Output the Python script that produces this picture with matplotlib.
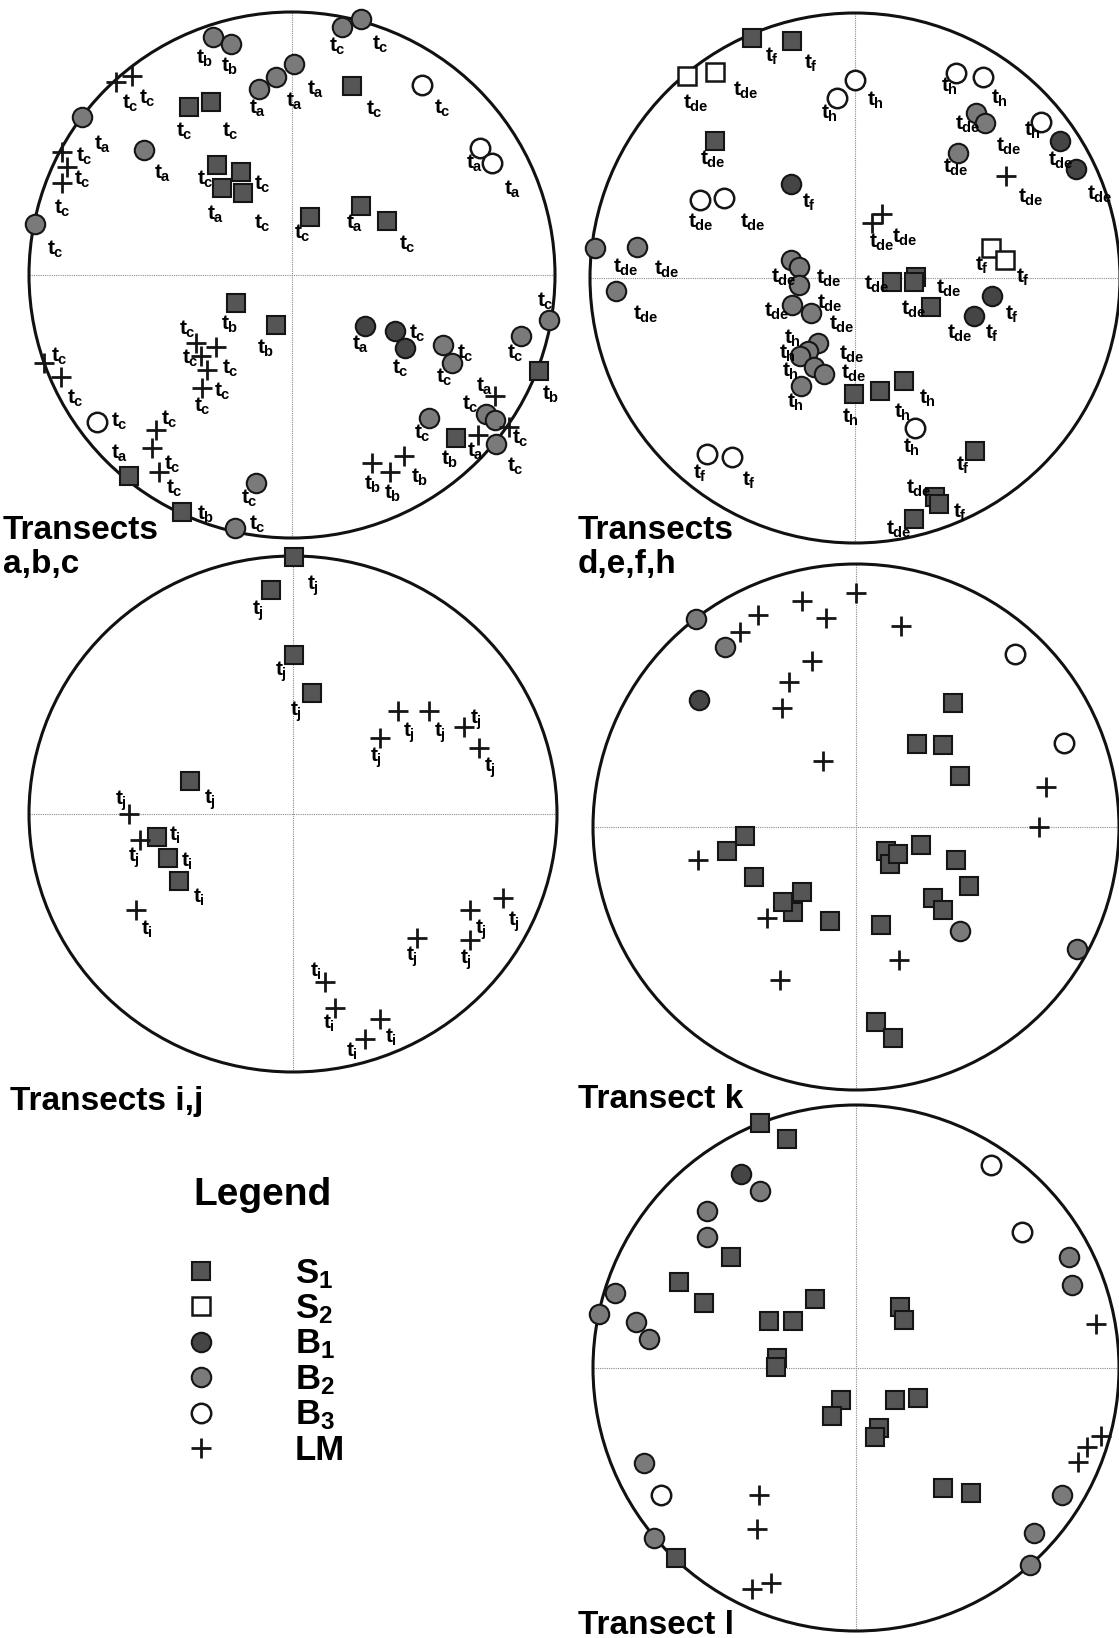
"""Stereonets of S1/S2 foliations, B1-B3 fold axes and LM lineations per transect."""

import matplotlib.pyplot as plt
from matplotlib.lines import Line2D
from matplotlib.patches import Circle

# ---- Transects a,b,c (net coordinates, radius = 1) ----
ABC_KIND = ['B2', 'B2', 'B2', 'B2', 'B2', 'LM', 'LM', 'B2', 'S1', 'S1', 'B2', 'LM', 'LM', 'LM',
            'S1', 'S1', 'S1', 'S1', 'B2', 'B2', 'B2', 'S1', 'B3', 'B3', 'B3', 'S1', 'S1', 'S1',
            'S1', 'S1', 'LM', 'LM', 'LM', 'LM', 'LM', 'LM', 'LM', 'B3', 'LM', 'LM', 'LM', 'S1',
            'S1', 'B2', 'B2', 'B1', 'B1', 'B1', 'B2', 'B2', 'B2', 'B2', 'S1', 'LM', 'B2', 'B2',
            'LM', 'LM', 'B2', 'B2', 'S1', 'LM', 'LM', 'LM']
ABC_X = [-0.300, -0.232, -0.125, -0.061, 0.008, -0.669, -0.608, -0.798, -0.392, -0.308, -0.563,
         -0.875, -0.856, -0.875, -0.285, -0.194, -0.266, -0.186, -0.977, 0.190, 0.262, 0.228,
         0.494, 0.715, 0.760, 0.068, 0.262, 0.361,
         -0.213, -0.061, -0.365, -0.289, -0.346, -0.323, -0.342, -0.943, -0.878, -0.741, -0.517,
         -0.532, -0.506, -0.620, -0.418, -0.137, -0.217, 0.278, 0.392, 0.430, 0.574, 0.608,
         0.871, 0.977, 0.939, 0.772, 0.738, 0.772, 0.825, 0.707, 0.776, 0.521, 0.624, 0.426,
         0.304, 0.373]
ABC_Y = [0.905, 0.878, 0.707, 0.753, 0.802, 0.734, 0.757, 0.601, 0.639, 0.658, 0.475, 0.468,
         0.411, 0.350, 0.418, 0.392, 0.331, 0.312, 0.194, 0.943, 0.973, 0.719, 0.722, 0.483,
         0.426, 0.221, 0.262, 0.205,
         -0.106, -0.190, -0.259, -0.274, -0.308, -0.361, -0.430, -0.335, -0.388, -0.559, -0.589,
         -0.658, -0.749, -0.764, -0.901, -0.791, -0.962, -0.194, -0.213, -0.278, -0.266, -0.335,
         -0.232, -0.171, -0.365, -0.460, -0.529, -0.551, -0.578, -0.608, -0.643, -0.544, -0.620,
         -0.688, -0.715, -0.749]
ABC_TAG = ['b', 'b', 'a', 'a', 'a', 'c', 'c', 'a', 'c', 'c', 'a', 'c', 'c', 'c', 'c', 'c', 'a',
           'c', 'c', 'c', 'c', 'c', 'c', 'a', 'a', 'c', 'a', 'c',
           'b', 'b', 'c', 'c', 'c', 'c', 'c', 'c', 'c', 'c', 'c', 'c', 'c', 'a', 'b', 'c', 'c',
           'a', 'c', 'c', 'c', 'c', 'c', 'c', 'b', 'a', 'c', '', 'c', 'a', 'c', 'c', 'b', 'b',
           'b', 'b']
# label offsets in pixels (right, down) from the symbol
ABC_DX = [-12, -5, -5, 15, 18, 11, 12, 17, -8, 16, 15, 19, 12, -3, -15, 18, -10, 16, 17, -8, 16,
          19, 17, -9, 17, -11, -10, 17,
          -10, -14, -12, 11, -14, 12, -3, 12, 11, 19, 10, 17, 12, -13, 20, -10, 19, -8, 19, -8,
          19, -11, -9, -7, 8, -14, -19, 0, 8, -6, 16, -10, -10, 12, -3, -1]
ABC_DY = [20, 21, 18, 23, 24, 20, 21, 26, 23, 28, 22, 3, 11, 24, 13, 11, 25, 29, 24, 18, 24, 22,
          22, 14, 25, 15, 16, 22,
          20, 22, -15, 20, 1, 20, 17, -8, 20, -2, -12, 15, 15, -24, 1, 14, -5, 17, 1, 19, 7, 13,
          16, -20, 22, -11, -11, 0, 10, 15, 21, 14, 20, 20, 20, 20]

# ---- Transects d,e,f,h ----
DEFH_KIND = ['S1', 'S1', 'S2', 'S2', 'B3', 'B3', 'S1', 'B3', 'B3', 'B1', 'B2', 'B2', 'B2', 'B2',
             'B3', 'B3', 'B2', 'B2', 'B2', 'LM', 'B3', 'B1', 'B1', 'LM', 'LM', 'S2', 'S2', 'S1',
             'S1', 'S1', 'B2', 'B2', 'B2', 'B2', 'B2', 'B2', 'B2', 'B2', 'B2', 'B2', 'S1', 'S1',
             'S1', 'B3', 'B3', 'B3', 'S1', 'B1', 'B1', 'S1', 'S1', 'S1', 'S1']
DEFH_X = [-0.390, -0.236, -0.633, -0.528, -0.067, 0.000, -0.528, -0.584, -0.494, -0.243, -0.981,
          -0.824, -0.240, -0.210, 0.382, 0.483, 0.457, 0.491, 0.390, 0.569, 0.700, 0.772, 0.835,
          0.101, 0.064, 0.513, 0.566, 0.232, 0.139, 0.221, -0.903, -0.210, -0.236, -0.165,
          -0.139, -0.176, -0.206, -0.154, -0.116, -0.202, -0.004, 0.094, 0.184, 0.228, -0.558,
          -0.464, 0.285, 0.517, 0.449, 0.453, 0.300, 0.318, 0.221]
DEFH_Y = [0.906, 0.895, 0.764, 0.779, 0.678, 0.749, 0.517, 0.296, 0.303, 0.356, 0.112, 0.116,
          0.067, 0.041, 0.772, 0.760, 0.622, 0.584, 0.472, 0.386, 0.588, 0.517, 0.412, 0.243,
          0.206, 0.112, 0.067, 0.004, -0.015, -0.015, -0.049, -0.026, -0.101, -0.131, -0.247,
          -0.277, -0.296, -0.337, -0.363, -0.408, -0.438, -0.427, -0.390, -0.566, -0.663,
          -0.674, -0.109, -0.067, -0.142, -0.652, -0.828, -0.854, -0.910]
DEFH_TAG = ['f', 'f', 'de', 'de', 'h', 'h', 'de', 'de', 'de', 'f', 'de', 'de', 'de', 'de', 'h',
            'h', 'de', 'de', 'de', 'de', 'h', 'de', 'de', 'de', 'de', 'f', 'f', 'de', 'de', 'de',
            'de', 'de', 'de', 'de', 'de', 'h', 'h', 'h', 'de', 'h', 'h', 'h', 'h', 'h', 'f', 'f',
            'de', 'f', 'f', 'f', 'de', 'f', 'de']
DEFH_DX = [18, 17, 1, 23, -11, 17, -10, -7, 21, 16, 23, 22, -15, 22, -10, 13, -16, 16, -10, 17,
           -11, -7, 16, 15, 2, -11, 16, 25, -23, -8, 22, 23, -23, 23, 26, -19, -16, -27, 22, -9,
           -7, 19, 20, -7, -9, 15, 21, 18, 16, -14, -24, 19, -23]
DEFH_DY = [17, 21, 26, 17, 13, 19, 17, 21, 23, 17, 17, 20, 15, 10, 11, 20, 10, 21, 13, 20, 7,
           18, 24, 22, 17, 15, 15, 10, 1, 26, 22, 17, 5, 10, 9, -15, -5, 2, -2, 15, 22, 20, 15,
           18, 18, 22, 25, 17, 16, 13, -11, 6, 9]

# ---- Transects i,j ----
IJ_KIND = ['S1'] * 8 + ['LM'] * 16
IJ_X = [0.003, -0.083, 0.005, 0.072, -0.392, -0.516, -0.474, -0.430, -0.621, -0.581, -0.594,
        0.399, 0.331, 0.517, 0.648, 0.705, 0.797, 0.672, 0.672, 0.471, 0.121, 0.160, 0.331,
        0.272]
IJ_Y = [0.996, 0.870, 0.617, 0.470, 0.129, -0.088, -0.172, -0.260, 0.000, -0.102, -0.373,
        0.400, 0.295, 0.400, 0.339, 0.257, -0.325, -0.373, -0.488, -0.481, -0.650, -0.752,
        -0.793, -0.874]
IJ_TAG = ['j', 'j', 'j', 'j', 'j', 'i', 'i', 'i', 'j', 'j', 'i', 'j', 'j', 'j', 'j', 'j', 'j',
          'j', 'j', 'j', 'i', 'i', 'i', 'i']
IJ_DX = [18, -14, -14, -17, 19, 17, 18, 19, -9, -7, 10, 10, -5, 10, 11, 10, 10, 10, -5, -6, -10,
         -7, 10, -14]
IJ_DY = [26, 18, 14, 16, 16, -3, 1, 15, -16, 14, 17, 19, 17, 19, -10, 17, 21, 16, 17, 16, -12,
         14, 17, 10]

# ---- Transect k ----
K_KIND = ['B2', 'B2', 'B1', 'LM', 'LM', 'LM', 'LM', 'LM', 'LM', 'LM', 'LM', 'LM', 'LM', 'B3',
          'B3', 'LM', 'LM', 'S1', 'S1', 'S1', 'S1', 'S1', 'S1', 'LM', 'S1', 'S1', 'S1', 'S1',
          'LM', 'S1', 'LM', 'S1', 'S1', 'S1', 'S1', 'S1', 'S1', 'S1', 'S1', 'B2', 'S1', 'LM',
          'B2', 'S1', 'S1']
K_X = [-0.609, -0.500, -0.596, -0.442, -0.374, -0.205, -0.115, 0.000, 0.171, -0.169, -0.256,
       -0.282, -0.124, 0.603, 0.791, 0.724, 0.696, 0.368, 0.231, 0.331, 0.397, -0.423, -0.491,
       -0.599, -0.388, -0.241, -0.205, -0.278, -0.340, -0.099, -0.288, 0.115, 0.131, 0.158,
       0.246, 0.381, 0.429, 0.291, 0.329, 0.397, 0.096, 0.163, 0.842, 0.077, 0.141]
K_Y = [0.790, 0.684, 0.484, 0.742, 0.807, 0.859, 0.794, 0.889, 0.766, 0.632, 0.553, 0.452,
       0.251, 0.658, 0.319, 0.152, 0.000, 0.473, 0.315, 0.313, 0.193, -0.035, -0.091, -0.126,
       -0.191, -0.322, -0.247, -0.284, -0.345, -0.358, -0.582, -0.091, -0.139, -0.104, -0.069,
       -0.124, -0.224, -0.271, -0.316, -0.397, -0.374, -0.505, -0.465, -0.742, -0.801]

# ---- Transect l ----
L_KIND = ['S1', 'S1', 'B1', 'B2', 'B2', 'B2', 'S1', 'S1', 'S1', 'B2', 'B2', 'B2', 'B2', 'S1',
          'S1', 'S1', 'S1', 'S1', 'S1', 'S1', 'B3', 'B3', 'B2', 'B2', 'LM', 'S1', 'S1', 'S1',
          'S1', 'S1', 'S1', 'S1', 'S1', 'LM', 'LM', 'LM', 'B2', 'B2', 'B2', 'B2', 'B3', 'LM',
          'LM', 'B2', 'S1', 'LM', 'LM']
L_X = [-0.366, -0.261, -0.439, -0.364, -0.568, -0.568, -0.474, -0.674, -0.579, -0.916, -0.977,
       -0.837, -0.787, -0.154, -0.329, -0.239, -0.299, -0.306, 0.169, 0.181, 0.514, 0.630,
       0.810, 0.823, 0.911, -0.058, -0.093, 0.148, 0.234, 0.088, 0.072, 0.329, 0.436, 0.930,
       0.879, 0.843, 0.782, 0.675, 0.662, -0.806, -0.742, -0.368, -0.377, -0.768, -0.683,
       -0.396, -0.325]
L_Y = [0.930, 0.870, 0.738, 0.674, 0.598, 0.499, 0.421, 0.328, 0.246, 0.285, 0.205, 0.175,
       0.110, 0.262, 0.179, 0.179, 0.039, 0.004, 0.231, 0.184, 0.771, 0.518, 0.421, 0.317,
       0.168, -0.123, -0.181, -0.123, -0.113, -0.229, -0.262, -0.457, -0.475, -0.259, -0.301,
       -0.356, -0.483, -0.626, -0.749, -0.360, -0.483, -0.483, -0.611, -0.645, -0.723, -0.842,
       -0.816]

LEGEND_KEYS = ['S1', 'S2', 'B1', 'B2', 'B3', 'LM']
LEGEND_TEXT = ['S$_1$', 'S$_2$', 'B$_1$', 'B$_2$', 'B$_3$', 'LM']

STYLE = {
    'S1': dict(marker='s', ms=13, mfc='#555555', mec='#151515', mew=1.5),
    'S2': dict(marker='s', ms=13, mfc='white', mec='#151515', mew=1.8),
    'B1': dict(marker='o', ms=14, mfc='#454545', mec='#151515', mew=1.5),
    'B2': dict(marker='o', ms=14, mfc='#7a7a7a', mec='#151515', mew=1.5),
    'B3': dict(marker='o', ms=14, mfc='white', mec='#151515', mew=1.8),
    'LM': dict(marker='+', ms=14, mfc='none', mec='#151515', mew=2.0),
}

plt.rcParams['font.family'] = ['Liberation Sans', 'DejaVu Sans']
plt.rcParams['font.weight'] = 'bold'
plt.rcParams['mathtext.fontset'] = 'custom'
plt.rcParams['mathtext.rm'] = 'Liberation Sans:bold'
plt.rcParams['mathtext.it'] = 'Liberation Sans:bold'
plt.rcParams['mathtext.bf'] = 'Liberation Sans:bold'

W, H = 1119, 1638
fig = plt.figure(figsize=(W / 100, H / 100), dpi=100)


def draw_net(cx, cy, rx, ry, kinds, xs, ys, tags=None, dxs=None, dys=None):
    ax = fig.add_axes([(cx - rx) / W, 1 - (cy + ry) / H, 2 * rx / W, 2 * ry / H])
    ax.set_xlim(-1, 1)
    ax.set_ylim(-1, 1)
    ax.axis('off')
    ax.add_patch(Circle((0, 0), 1, fill=False, lw=2.2, ec='#111111', zorder=2, clip_on=False))
    ax.plot([-1, 1], [0, 0], color='#8a8a8a', lw=0.8, ls=(0, (1, 1)), zorder=1)
    ax.plot([0, 0], [-1, 1], color='#8a8a8a', lw=0.8, ls=(0, (1, 1)), zorder=1)
    for i, k in enumerate(kinds):
        ax.plot(xs[i], ys[i], ls='none', clip_on=False, zorder=4 if k == 'LM' else 3,
                **STYLE[k])
        if tags and tags[i]:
            ax.annotate('$t_{%s}$' % tags[i], (xs[i], ys[i]),
                        xytext=(dxs[i] - 5, -dys[i] - 7), textcoords='offset pixels',
                        ha='left', va='baseline', fontsize=15, annotation_clip=False,
                        zorder=5)
    return ax


draw_net(292, 275, 263, 263, ABC_KIND, ABC_X, ABC_Y, ABC_TAG, ABC_DX, ABC_DY)
draw_net(855, 278, 265, 265, DEFH_KIND, DEFH_X, DEFH_Y, DEFH_TAG, DEFH_DX, DEFH_DY)
draw_net(293, 814, 264, 258, IJ_KIND, IJ_X, IJ_Y, IJ_TAG, IJ_DX, IJ_DY)
draw_net(856, 827, 263, 263, K_KIND, K_X, K_Y)
draw_net(856, 1368, 263, 263, L_KIND, L_X, L_Y)

title_kw = dict(fontsize=24, fontweight='bold', ha='left', va='baseline')
fig.text(3 / W, 1 - 539 / H, 'Transects', **title_kw)
fig.text(3 / W, 1 - 573 / H, 'a,b,c', **title_kw)
fig.text(578 / W, 1 - 539 / H, 'Transects', **title_kw)
fig.text(578 / W, 1 - 573 / H, 'd,e,f,h', **title_kw)
fig.text(10 / W, 1 - 1110 / H, 'Transects i,j', **title_kw)
fig.text(578 / W, 1 - 1108 / H, 'Transect k', **title_kw)
fig.text(578 / W, 1 - 1634 / H, 'Transect l', **title_kw)

fig.text(263 / W, 1 - 1205 / H, 'Legend', fontsize=28, fontweight='bold', ha='center',
         va='baseline')
handles = [Line2D([], [], ls='none', **STYLE[k]) for k in LEGEND_KEYS]
fig.legend(handles, LEGEND_TEXT, loc='center left', bbox_to_anchor=(184 / W, 1 - 1362 / H),
           frameon=False, fontsize=25, handletextpad=2.2, labelspacing=0.05,
           handlelength=1.0, borderpad=0, borderaxespad=0)

fig.savefig('out.png', dpi=100)
